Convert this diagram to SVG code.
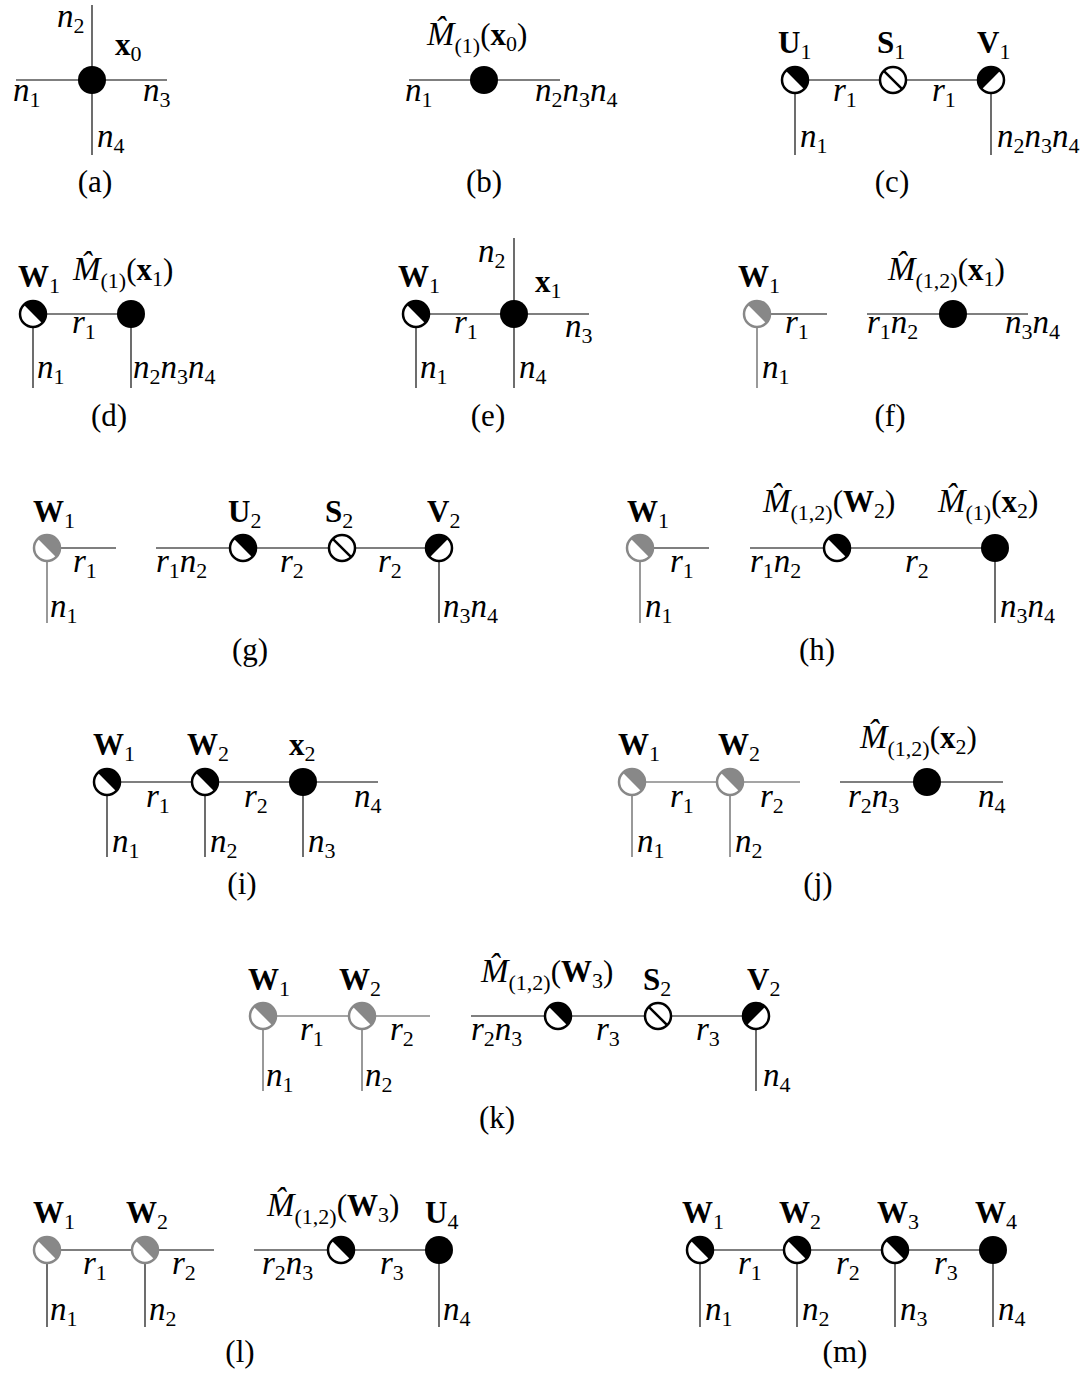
<svg xmlns="http://www.w3.org/2000/svg" xmlns:xlink="http://www.w3.org/1999/xlink" width="1091" height="1374" viewBox="0 0 1091 1374">
<style>
.e{stroke:#555;stroke-width:1.7;fill:none}
.eg{stroke:#888;stroke-width:1.7;fill:none}
text{font-family:"Liberation Serif","Times New Roman",serif;font-size:31px;fill:#000}
.i{font-style:italic;font-size:33px}
.b{font-weight:bold}
.s{font-size:22px}
.c{text-anchor:middle}
</style>
<defs>
<g id="F"><circle r="14" fill="#000"/></g>
<g id="U"><circle r="13" fill="#fff" stroke="#000" stroke-width="2.5"/><path d="M-9.19-9.19A13 13 0 0 1 9.19 9.19Z" fill="#000"/></g>
<g id="V"><circle r="13" fill="#fff" stroke="#000" stroke-width="2.5"/><path d="M-9.19 9.19A13 13 0 0 1 9.19-9.19Z" fill="#000"/></g>
<g id="S"><circle r="13" fill="#fff" stroke="#000" stroke-width="2.5"/><path d="M-9.19-9.19L9.19 9.19" stroke="#000" stroke-width="2.5"/></g>
<g id="G"><circle r="13" fill="#fff" stroke="#888" stroke-width="2.5"/><path d="M-9.19-9.19A13 13 0 0 1 9.19 9.19Z" fill="#888"/></g>
</defs>
<rect width="1091" height="1374" fill="#fff"/>
<g id="connectors">
<path class="e" d="M16 80H167M92 5V155"/>
<path class="e" d="M409 80H560"/>
<path class="e" d="M795 80H991M795 80V155M991 80V155"/>
<path class="e" d="M33 314H131M33 314V388M131 314V388"/>
<path class="e" d="M416 314H589M514 238V388M416 314V388"/>
<path class="e" d="M757 314H827M867 314H1028"/>
<path class="eg" d="M757 314V388"/>
<path class="e" d="M47 548H116M156 548H439M439 548V623"/>
<path class="eg" d="M47 548V623"/>
<path class="e" d="M640 548H709M750 548H995M995 548V623"/>
<path class="eg" d="M640 548V623"/>
<path class="e" d="M107 782H378M107 782V857M205 782V857M303 782V857"/>
<path class="eg" d="M632 782H800M632 782V857M730 782V857"/>
<path class="e" d="M840 782H1003"/>
<path class="eg" d="M263 1016H430M263 1016V1091M362 1016V1091"/>
<path class="e" d="M471 1016H756M756 1016V1091"/>
<path class="e" d="M47 1250H214M47 1250V1327M145 1250V1327M254 1250H439M439 1250V1327"/>
<path class="e" d="M700 1250H993M700 1250V1327M797 1250V1327M895 1250V1327M993 1250V1327"/>
</g>

<g id="a-x0"><use href="#F" x="92" y="80"/></g>
<g id="a-labels">
<text x="57" y="27"><tspan class="i">n</tspan><tspan class="s" dy="6">2</tspan></text>
<text x="115" y="55"><tspan class="b">x</tspan><tspan class="s" dy="6">0</tspan></text>
<text x="13" y="101"><tspan class="i">n</tspan><tspan class="s" dy="6">1</tspan></text>
<text x="143" y="101"><tspan class="i">n</tspan><tspan class="s" dy="6">3</tspan></text>
<text x="97" y="147"><tspan class="i">n</tspan><tspan class="s" dy="6">4</tspan></text>
<text class="c" x="95" y="192">(a)</text>
</g>

<g id="b-M"><use href="#F" x="484" y="80"/></g>
<g id="b-labels">
<text x="427" y="45"><tspan class="i">M̂</tspan><tspan class="s" dy="8">(1)</tspan><tspan dy="-8">(</tspan><tspan class="b">x</tspan><tspan class="s" dy="6">0</tspan><tspan dy="-6">)</tspan></text>
<text x="405" y="101"><tspan class="i">n</tspan><tspan class="s" dy="6">1</tspan></text>
<text x="535" y="101"><tspan class="i">n</tspan><tspan class="s" dy="6">2</tspan><tspan class="i" dy="-6">n</tspan><tspan class="s" dy="6">3</tspan><tspan class="i" dy="-6">n</tspan><tspan class="s" dy="6">4</tspan></text>
<text class="c" x="484" y="192">(b)</text>
</g>

<g id="c-U1"><use href="#U" x="795" y="80"/></g>
<g id="c-S1"><use href="#S" x="893" y="80"/></g>
<g id="c-V1"><use href="#V" x="991" y="80"/></g>
<g id="c-labels">
<text x="778" y="53"><tspan class="b">U</tspan><tspan class="s" dy="6">1</tspan></text>
<text x="877" y="53"><tspan class="b">S</tspan><tspan class="s" dy="6">1</tspan></text>
<text x="977" y="53"><tspan class="b">V</tspan><tspan class="s" dy="6">1</tspan></text>
<text x="833" y="101"><tspan class="i">r</tspan><tspan class="s" dy="6">1</tspan></text>
<text x="932" y="101"><tspan class="i">r</tspan><tspan class="s" dy="6">1</tspan></text>
<text x="800" y="147"><tspan class="i">n</tspan><tspan class="s" dy="6">1</tspan></text>
<text x="997" y="147"><tspan class="i">n</tspan><tspan class="s" dy="6">2</tspan><tspan class="i" dy="-6">n</tspan><tspan class="s" dy="6">3</tspan><tspan class="i" dy="-6">n</tspan><tspan class="s" dy="6">4</tspan></text>
<text class="c" x="892" y="192">(c)</text>
</g>

<g id="d-W1"><use href="#U" x="33" y="314"/></g>
<g id="d-M"><use href="#F" x="131" y="314"/></g>
<g id="d-labels">
<text x="18" y="287"><tspan class="b">W</tspan><tspan class="s" dy="6">1</tspan></text>
<text x="73" y="280"><tspan class="i">M̂</tspan><tspan class="s" dy="8">(1)</tspan><tspan dy="-8">(</tspan><tspan class="b">x</tspan><tspan class="s" dy="6">1</tspan><tspan dy="-6">)</tspan></text>
<text x="72" y="333"><tspan class="i">r</tspan><tspan class="s" dy="6">1</tspan></text>
<text x="37" y="378"><tspan class="i">n</tspan><tspan class="s" dy="6">1</tspan></text>
<text x="133" y="378"><tspan class="i">n</tspan><tspan class="s" dy="6">2</tspan><tspan class="i" dy="-6">n</tspan><tspan class="s" dy="6">3</tspan><tspan class="i" dy="-6">n</tspan><tspan class="s" dy="6">4</tspan></text>
<text class="c" x="109" y="426">(d)</text>
</g>

<g id="e-W1"><use href="#U" x="416" y="314"/></g>
<g id="e-x1"><use href="#F" x="514" y="314"/></g>
<g id="e-labels">
<text x="478" y="262"><tspan class="i">n</tspan><tspan class="s" dy="6">2</tspan></text>
<text x="398" y="287"><tspan class="b">W</tspan><tspan class="s" dy="6">1</tspan></text>
<text x="535" y="292"><tspan class="b">x</tspan><tspan class="s" dy="6">1</tspan></text>
<text x="454" y="333"><tspan class="i">r</tspan><tspan class="s" dy="6">1</tspan></text>
<text x="565" y="337"><tspan class="i">n</tspan><tspan class="s" dy="6">3</tspan></text>
<text x="420" y="378"><tspan class="i">n</tspan><tspan class="s" dy="6">1</tspan></text>
<text x="519" y="378"><tspan class="i">n</tspan><tspan class="s" dy="6">4</tspan></text>
<text class="c" x="488" y="426">(e)</text>
</g>

<g id="f-W1"><use href="#G" x="757" y="314"/></g>
<g id="f-M"><use href="#F" x="953" y="314"/></g>
<g id="f-labels">
<text x="738" y="287"><tspan class="b">W</tspan><tspan class="s" dy="6">1</tspan></text>
<text x="888" y="280"><tspan class="i">M̂</tspan><tspan class="s" dy="8">(1,2)</tspan><tspan dy="-8">(</tspan><tspan class="b">x</tspan><tspan class="s" dy="6">1</tspan><tspan dy="-6">)</tspan></text>
<text x="785" y="333"><tspan class="i">r</tspan><tspan class="s" dy="6">1</tspan></text>
<text x="867" y="333"><tspan class="i">r</tspan><tspan class="s" dy="6">1</tspan><tspan class="i" dy="-6">n</tspan><tspan class="s" dy="6">2</tspan></text>
<text x="1005" y="333"><tspan class="i">n</tspan><tspan class="s" dy="6">3</tspan><tspan class="i" dy="-6">n</tspan><tspan class="s" dy="6">4</tspan></text>
<text x="762" y="378"><tspan class="i">n</tspan><tspan class="s" dy="6">1</tspan></text>
<text class="c" x="890" y="426">(f)</text>
</g>

<g id="g-W1"><use href="#G" x="47" y="548"/></g>
<g id="g-U2"><use href="#U" x="243" y="548"/></g>
<g id="g-S2"><use href="#S" x="342" y="548"/></g>
<g id="g-V2"><use href="#V" x="439" y="548"/></g>
<g id="g-labels">
<text x="33" y="522"><tspan class="b">W</tspan><tspan class="s" dy="6">1</tspan></text>
<text x="228" y="522"><tspan class="b">U</tspan><tspan class="s" dy="6">2</tspan></text>
<text x="325" y="522"><tspan class="b">S</tspan><tspan class="s" dy="6">2</tspan></text>
<text x="427" y="522"><tspan class="b">V</tspan><tspan class="s" dy="6">2</tspan></text>
<text x="73" y="572"><tspan class="i">r</tspan><tspan class="s" dy="6">1</tspan></text>
<text x="156" y="572"><tspan class="i">r</tspan><tspan class="s" dy="6">1</tspan><tspan class="i" dy="-6">n</tspan><tspan class="s" dy="6">2</tspan></text>
<text x="280" y="572"><tspan class="i">r</tspan><tspan class="s" dy="6">2</tspan></text>
<text x="378" y="572"><tspan class="i">r</tspan><tspan class="s" dy="6">2</tspan></text>
<text x="50" y="617"><tspan class="i">n</tspan><tspan class="s" dy="6">1</tspan></text>
<text x="443" y="617"><tspan class="i">n</tspan><tspan class="s" dy="6">3</tspan><tspan class="i" dy="-6">n</tspan><tspan class="s" dy="6">4</tspan></text>
<text class="c" x="250" y="660">(g)</text>
</g>

<g id="h-W1"><use href="#G" x="640" y="548"/></g>
<g id="h-W2"><use href="#U" x="837" y="548"/></g>
<g id="h-x2"><use href="#F" x="995" y="548"/></g>
<g id="h-labels">
<text x="627" y="522"><tspan class="b">W</tspan><tspan class="s" dy="6">1</tspan></text>
<text x="763" y="512"><tspan class="i">M̂</tspan><tspan class="s" dy="8">(1,2)</tspan><tspan dy="-8">(</tspan><tspan class="b">W</tspan><tspan class="s" dy="6">2</tspan><tspan dy="-6">)</tspan></text>
<text x="938" y="512"><tspan class="i">M̂</tspan><tspan class="s" dy="8">(1)</tspan><tspan dy="-8">(</tspan><tspan class="b">x</tspan><tspan class="s" dy="6">2</tspan><tspan dy="-6">)</tspan></text>
<text x="670" y="572"><tspan class="i">r</tspan><tspan class="s" dy="6">1</tspan></text>
<text x="750" y="572"><tspan class="i">r</tspan><tspan class="s" dy="6">1</tspan><tspan class="i" dy="-6">n</tspan><tspan class="s" dy="6">2</tspan></text>
<text x="905" y="572"><tspan class="i">r</tspan><tspan class="s" dy="6">2</tspan></text>
<text x="645" y="617"><tspan class="i">n</tspan><tspan class="s" dy="6">1</tspan></text>
<text x="1000" y="617"><tspan class="i">n</tspan><tspan class="s" dy="6">3</tspan><tspan class="i" dy="-6">n</tspan><tspan class="s" dy="6">4</tspan></text>
<text class="c" x="817" y="660">(h)</text>
</g>

<g id="i-W1"><use href="#U" x="107" y="782"/></g>
<g id="i-W2"><use href="#U" x="205" y="782"/></g>
<g id="i-x2"><use href="#F" x="303" y="782"/></g>
<g id="i-labels">
<text x="93" y="755"><tspan class="b">W</tspan><tspan class="s" dy="6">1</tspan></text>
<text x="187" y="755"><tspan class="b">W</tspan><tspan class="s" dy="6">2</tspan></text>
<text x="289" y="755"><tspan class="b">x</tspan><tspan class="s" dy="6">2</tspan></text>
<text x="146" y="807"><tspan class="i">r</tspan><tspan class="s" dy="6">1</tspan></text>
<text x="244" y="807"><tspan class="i">r</tspan><tspan class="s" dy="6">2</tspan></text>
<text x="354" y="807"><tspan class="i">n</tspan><tspan class="s" dy="6">4</tspan></text>
<text x="112" y="852"><tspan class="i">n</tspan><tspan class="s" dy="6">1</tspan></text>
<text x="210" y="852"><tspan class="i">n</tspan><tspan class="s" dy="6">2</tspan></text>
<text x="308" y="852"><tspan class="i">n</tspan><tspan class="s" dy="6">3</tspan></text>
<text class="c" x="242" y="894">(i)</text>
</g>

<g id="j-W1"><use href="#G" x="632" y="782"/></g>
<g id="j-W2"><use href="#G" x="730" y="782"/></g>
<g id="j-M"><use href="#F" x="927" y="782"/></g>
<g id="j-labels">
<text x="618" y="755"><tspan class="b">W</tspan><tspan class="s" dy="6">1</tspan></text>
<text x="718" y="755"><tspan class="b">W</tspan><tspan class="s" dy="6">2</tspan></text>
<text x="860" y="748"><tspan class="i">M̂</tspan><tspan class="s" dy="8">(1,2)</tspan><tspan dy="-8">(</tspan><tspan class="b">x</tspan><tspan class="s" dy="6">2</tspan><tspan dy="-6">)</tspan></text>
<text x="670" y="807"><tspan class="i">r</tspan><tspan class="s" dy="6">1</tspan></text>
<text x="760" y="807"><tspan class="i">r</tspan><tspan class="s" dy="6">2</tspan></text>
<text x="848" y="807"><tspan class="i">r</tspan><tspan class="s" dy="6">2</tspan><tspan class="i" dy="-6">n</tspan><tspan class="s" dy="6">3</tspan></text>
<text x="978" y="807"><tspan class="i">n</tspan><tspan class="s" dy="6">4</tspan></text>
<text x="637" y="852"><tspan class="i">n</tspan><tspan class="s" dy="6">1</tspan></text>
<text x="735" y="852"><tspan class="i">n</tspan><tspan class="s" dy="6">2</tspan></text>
<text class="c" x="818" y="894">(j)</text>
</g>

<g id="k-W1"><use href="#G" x="263" y="1016"/></g>
<g id="k-W2"><use href="#G" x="362" y="1016"/></g>
<g id="k-W3"><use href="#U" x="558" y="1016"/></g>
<g id="k-S2"><use href="#S" x="658" y="1016"/></g>
<g id="k-V2"><use href="#V" x="756" y="1016"/></g>
<g id="k-labels">
<text x="248" y="990"><tspan class="b">W</tspan><tspan class="s" dy="6">1</tspan></text>
<text x="339" y="990"><tspan class="b">W</tspan><tspan class="s" dy="6">2</tspan></text>
<text x="481" y="982"><tspan class="i">M̂</tspan><tspan class="s" dy="8">(1,2)</tspan><tspan dy="-8">(</tspan><tspan class="b">W</tspan><tspan class="s" dy="6">3</tspan><tspan dy="-6">)</tspan></text>
<text x="643" y="990"><tspan class="b">S</tspan><tspan class="s" dy="6">2</tspan></text>
<text x="747" y="990"><tspan class="b">V</tspan><tspan class="s" dy="6">2</tspan></text>
<text x="300" y="1040"><tspan class="i">r</tspan><tspan class="s" dy="6">1</tspan></text>
<text x="390" y="1040"><tspan class="i">r</tspan><tspan class="s" dy="6">2</tspan></text>
<text x="471" y="1040"><tspan class="i">r</tspan><tspan class="s" dy="6">2</tspan><tspan class="i" dy="-6">n</tspan><tspan class="s" dy="6">3</tspan></text>
<text x="596" y="1040"><tspan class="i">r</tspan><tspan class="s" dy="6">3</tspan></text>
<text x="696" y="1040"><tspan class="i">r</tspan><tspan class="s" dy="6">3</tspan></text>
<text x="266" y="1086"><tspan class="i">n</tspan><tspan class="s" dy="6">1</tspan></text>
<text x="365" y="1086"><tspan class="i">n</tspan><tspan class="s" dy="6">2</tspan></text>
<text x="763" y="1086"><tspan class="i">n</tspan><tspan class="s" dy="6">4</tspan></text>
<text class="c" x="497" y="1128">(k)</text>
</g>

<g id="l-W1"><use href="#G" x="47" y="1250"/></g>
<g id="l-W2"><use href="#G" x="145" y="1250"/></g>
<g id="l-W3"><use href="#U" x="341" y="1250"/></g>
<g id="l-U4"><use href="#F" x="439" y="1250"/></g>
<g id="l-labels">
<text x="33" y="1223"><tspan class="b">W</tspan><tspan class="s" dy="6">1</tspan></text>
<text x="126" y="1223"><tspan class="b">W</tspan><tspan class="s" dy="6">2</tspan></text>
<text x="267" y="1216"><tspan class="i">M̂</tspan><tspan class="s" dy="8">(1,2)</tspan><tspan dy="-8">(</tspan><tspan class="b">W</tspan><tspan class="s" dy="6">3</tspan><tspan dy="-6">)</tspan></text>
<text x="425" y="1223"><tspan class="b">U</tspan><tspan class="s" dy="6">4</tspan></text>
<text x="83" y="1274"><tspan class="i">r</tspan><tspan class="s" dy="6">1</tspan></text>
<text x="172" y="1274"><tspan class="i">r</tspan><tspan class="s" dy="6">2</tspan></text>
<text x="262" y="1274"><tspan class="i">r</tspan><tspan class="s" dy="6">2</tspan><tspan class="i" dy="-6">n</tspan><tspan class="s" dy="6">3</tspan></text>
<text x="380" y="1274"><tspan class="i">r</tspan><tspan class="s" dy="6">3</tspan></text>
<text x="50" y="1320"><tspan class="i">n</tspan><tspan class="s" dy="6">1</tspan></text>
<text x="149" y="1320"><tspan class="i">n</tspan><tspan class="s" dy="6">2</tspan></text>
<text x="443" y="1320"><tspan class="i">n</tspan><tspan class="s" dy="6">4</tspan></text>
<text class="c" x="240" y="1362">(l)</text>
</g>

<g id="m-W1"><use href="#U" x="700" y="1250"/></g>
<g id="m-W2"><use href="#U" x="797" y="1250"/></g>
<g id="m-W3"><use href="#U" x="895" y="1250"/></g>
<g id="m-W4"><use href="#F" x="993" y="1250"/></g>
<g id="m-labels">
<text x="682" y="1223"><tspan class="b">W</tspan><tspan class="s" dy="6">1</tspan></text>
<text x="779" y="1223"><tspan class="b">W</tspan><tspan class="s" dy="6">2</tspan></text>
<text x="877" y="1223"><tspan class="b">W</tspan><tspan class="s" dy="6">3</tspan></text>
<text x="975" y="1223"><tspan class="b">W</tspan><tspan class="s" dy="6">4</tspan></text>
<text x="738" y="1274"><tspan class="i">r</tspan><tspan class="s" dy="6">1</tspan></text>
<text x="836" y="1274"><tspan class="i">r</tspan><tspan class="s" dy="6">2</tspan></text>
<text x="934" y="1274"><tspan class="i">r</tspan><tspan class="s" dy="6">3</tspan></text>
<text x="705" y="1320"><tspan class="i">n</tspan><tspan class="s" dy="6">1</tspan></text>
<text x="802" y="1320"><tspan class="i">n</tspan><tspan class="s" dy="6">2</tspan></text>
<text x="900" y="1320"><tspan class="i">n</tspan><tspan class="s" dy="6">3</tspan></text>
<text x="998" y="1320"><tspan class="i">n</tspan><tspan class="s" dy="6">4</tspan></text>
<text class="c" x="845" y="1362">(m)</text>
</g>
</svg>
